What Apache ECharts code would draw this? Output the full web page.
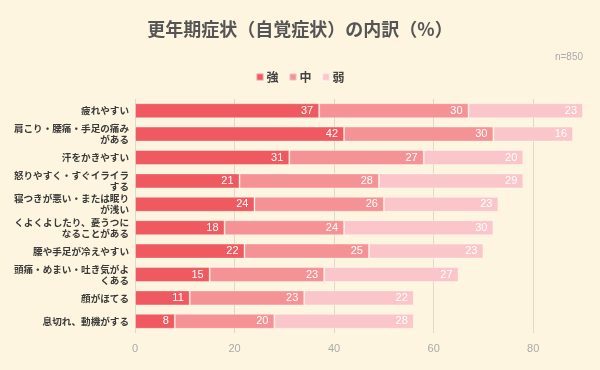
<!DOCTYPE html>
<html><head><meta charset="utf-8">
<script src="https://cdn.jsdelivr.net/npm/echarts@6/dist/echarts.min.js"></script>
<style>html,body{margin:0;padding:0;background:#FDF5DF;}#c{width:600px;height:370px;}</style>
</head><body><div id="c"></div>
<script>
var categories = ['疲れやすい','肩こり・腰痛・手足の痛み\nがある','汗をかきやすい','怒りやすく・すぐイライラ\nする','寝つきが悪い・または眠り\nが浅い','くよくよしたり、憂うつに\nなることがある','腰や手足が冷えやすい','頭痛・めまい・吐き気がよ\nくある','顔がほてる','息切れ、動機がする'];
var seriesNames = ['強','中','弱'];
var strong = [37,42,31,21,24,18,22,15,11,8];
var medium = [30,30,27,28,26,24,25,23,23,20];
var weak = [23,16,20,29,23,30,23,27,22,28];
var xTicks = [0,20,40,60,80];
var titleText = '更年期症状（自覚症状）の内訳（%）';
var noteText = 'n=850';

var colors = ['#EF5A60','#F59295','#FBC6C9'];
var chart = echarts.init(document.getElementById('c'));
function mk(name, data, i){
  return {name:name, type:'bar', stack:'t', data:data, barWidth:15,
    itemStyle:{color:colors[i], borderColor:'rgba(255,255,255,0.35)', borderWidth:1},
    label:{show:true, position:'insideRight', offset:[-1,0], color:'#fff', fontSize:11, fontFamily:'Liberation Sans, Arial'}};
}
chart.setOption({
  backgroundColor:'#FDF5DF',
  animation:false,
  title:{text:titleText, left:'center', top:15, textStyle:{fontSize:18, fontWeight:'bold', color:'#555', fontFamily:'Noto Sans CJK JP'}},
  graphic:[{type:'text', right:17, top:52, style:{text:noteText, fill:'#aaa', fontSize:10, fontFamily:'Liberation Sans, Arial'}}],
  legend:{data:seriesNames, top:66, left:'center', icon:'rect', itemWidth:7, itemHeight:7, itemGap:10,
    textStyle:{fontSize:12, fontWeight:'bold', color:'#444', fontFamily:'Noto Sans CJK JP', padding:[0,0,0,-2]}},
  grid:{left:135, width:448, top:99, height:234},
  xAxis:{type:'value', min:0, max:90, interval:20,
    axisLine:{show:false}, axisTick:{show:false},
    splitLine:{showMaxLine:false, lineStyle:{color:'#DEDACB'}},
    axisLabel:{color:'#aaa', fontSize:11, margin:10, showMaxLabel:false, fontFamily:'Liberation Sans, Arial',
      formatter:function(v){return xTicks.indexOf(v)>=0? String(v):'';}}},
  yAxis:{type:'category', data:categories, inverse:true,
    axisLine:{show:false}, axisTick:{show:false},
    axisLabel:{color:'#3a3a3a', fontSize:9.6, fontWeight:'bold', lineHeight:11, margin:6, fontFamily:'Noto Sans CJK JP'}},
  series:[mk(seriesNames[0],strong,0), mk(seriesNames[1],medium,1), mk(seriesNames[2],weak,2)]
});
</script></body></html>
